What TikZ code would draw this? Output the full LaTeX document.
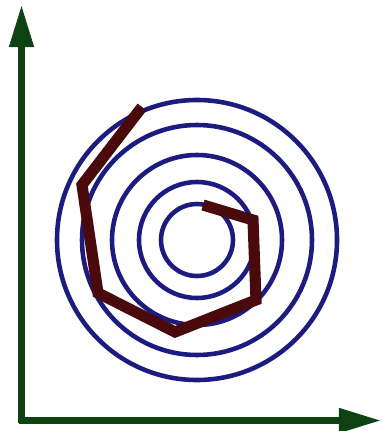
\documentclass[tikz,border=0pt]{standalone}
\usepackage{xcolor}
\definecolor{axisgreen}{HTML}{0F4212}
\definecolor{ringblue}{HTML}{1C1C80}
\definecolor{pathbrown}{HTML}{4A0A0C}
\usepackage{tikz}
\usetikzlibrary{arrows.meta}

\begin{document}
\begin{tikzpicture}[x=0.03cm, y=-0.03cm,
    axis/.style={axisgreen, line width=5.5pt, -{Triangle[length=36pt, width=20pt]}},
    ring/.style={ringblue, line width=3.9pt},
    walk/.style={pathbrown, line width=9.5pt, line join=miter}]
  \useasboundingbox (0,0) rectangle (382,431);
  % axes
  \coordinate (origin) at (21.5,420.5);
  \coordinate (ytip)   at (21.5,5);
  \coordinate (xtip)   at (381,420.5);
  \draw[axis] ([yshift=-2.5pt]origin) -- (ytip);
  \draw[axis] ([xshift=-2.5pt]origin) -- (xtip);
  % level sets
  \coordinate (centre) at (197,240);
  \foreach \r in {140,115,85,58,36}
    \draw[ring] (centre) circle[radius=\r];
  % descent path
  \draw[walk] (142,107) -- (82,185) -- (98,293) -- (175,332)
    -- (256,300) -- (253,220) -- (203,205);
\end{tikzpicture}
\end{document}
